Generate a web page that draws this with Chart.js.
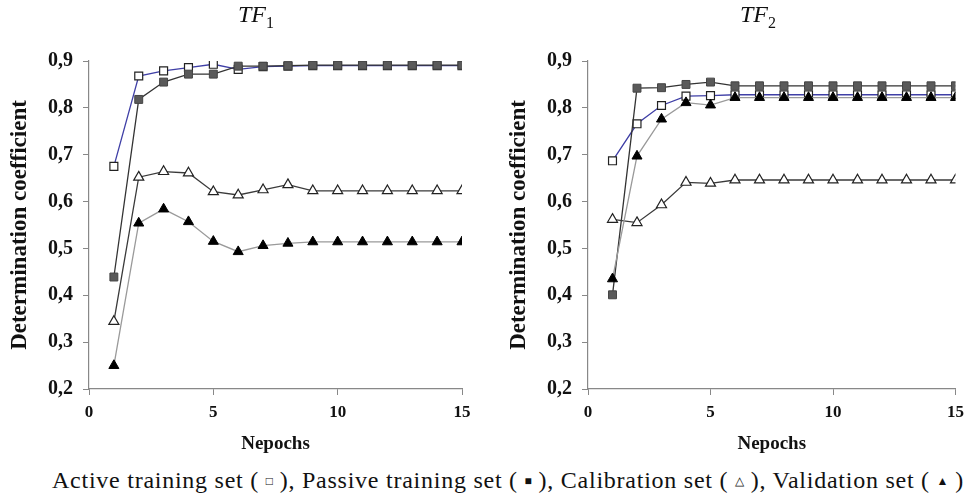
<!DOCTYPE html>
<html>
<head>
<meta charset="utf-8">
<script src="https://cdn.jsdelivr.net/npm/chart.js@4.4.1/dist/chart.umd.min.js"></script>
<style>
  html, body { margin: 0; padding: 0; background: #fff; }
  #wrap { position: relative; width: 971px; height: 503px; overflow: hidden; background: #fff; }
  canvas { position: absolute; top: 0; }
  .ttl { position: absolute; top: 1px; font-family: "Liberation Serif", serif; font-size: 24px; font-style: italic; color: #111; }
  .ttl sub { font-style: normal; font-size: 16px; vertical-align: -6px; }
  #legend { position: absolute; left: 52px; top: 467px; font-family: "Liberation Serif", serif; font-size: 24px; letter-spacing: 0.75px; color: #111; white-space: nowrap; }
  #legend .s { font-size: 12px; vertical-align: 3px; letter-spacing: 0; }
</style>
</head>
<body>
<div id="wrap">
  <canvas id="c1" width="485" height="460" style="left:0px"></canvas>
  <canvas id="c2" width="486" height="460" style="left:485px"></canvas>
  <div class="ttl" style="left:238px">TF<sub>1</sub></div>
  <div class="ttl" style="left:740px">TF<sub>2</sub></div>
  <div id="legend">Active training set ( <span class="s">&#9633;</span> ), Passive training set ( <span class="s">&#9632;</span> ), Calibration set ( <span class="s">&#9651;</span> ), Validation set ( <span class="s">&#9650;</span> )</div>
</div>
<script>
const epochs = [1,2,3,4,5,6,7,8,9,10,11,12,13,14,15];
const seriesNames = ['Active training set', 'Passive training set', 'Calibration set', 'Validation set'];

// TF1
const active1  = [0.675,0.868,0.879,0.886,0.893,0.882,0.888,0.889,0.890,0.890,0.890,0.890,0.890,0.890,0.890];
const passive1 = [0.439,0.818,0.855,0.872,0.872,0.889,0.889,0.890,0.891,0.891,0.891,0.891,0.891,0.891,0.891];
const calib1   = [0.344,0.652,0.664,0.661,0.621,0.614,0.625,0.636,0.623,0.623,0.623,0.623,0.623,0.623,0.623];
const valid1   = [0.250,0.554,0.584,0.557,0.515,0.493,0.506,0.511,0.514,0.514,0.514,0.514,0.514,0.514,0.514];

// TF2
const active2  = [0.687,0.766,0.805,0.825,0.826,0.828,0.828,0.828,0.828,0.828,0.828,0.828,0.828,0.828,0.828];
const passive2 = [0.401,0.842,0.843,0.850,0.855,0.847,0.847,0.847,0.847,0.847,0.847,0.847,0.847,0.847,0.847];
const calib2   = [0.562,0.555,0.593,0.641,0.639,0.646,0.646,0.646,0.646,0.646,0.646,0.646,0.646,0.646,0.646];
const valid2   = [0.435,0.697,0.776,0.811,0.806,0.822,0.822,0.822,0.822,0.822,0.822,0.822,0.822,0.822,0.822];

const yTicks = [0.2,0.3,0.4,0.5,0.6,0.7,0.8,0.9];
const yTickLabels = ['0,2','0,3','0,4','0,5','0,6','0,7','0,8','0,9'];
const xTicks = [0,5,10,15];
const xTickLabels = ['0','5','10','15'];
const xTitle = 'Nepochs';
const yTitle = 'Determination coefficient';

const serif = '"Liberation Serif", "Times New Roman", serif';

function pts(vals) { return epochs.map((e, i) => ({x: e, y: vals[i]})); }

function makeDatasets(a, p, c, v) {
  return [
    { label: seriesNames[0], data: pts(a), borderColor: '#3f3fa6', borderWidth: 1.3,
      pointStyle: 'rect', pointRadius: 5.6, pointBackgroundColor: '#ffffff', pointBorderColor: '#222', pointBorderWidth: 1.2, order: 4 },
    { label: seriesNames[1], data: pts(p), borderColor: '#333333', borderWidth: 1.3,
      pointStyle: 'rect', pointRadius: 5.6, pointBackgroundColor: '#5a5a5a', pointBorderColor: '#444', pointBorderWidth: 1, order: 3 },
    { label: seriesNames[2], data: pts(c), borderColor: '#3a3a3a', borderWidth: 1.3,
      pointStyle: 'triangle', pointRadius: 5.8, pointBackgroundColor: '#ffffff', pointBorderColor: '#222', pointBorderWidth: 1.2, order: 2 },
    { label: seriesNames[3], data: pts(v), borderColor: '#9a9a9a', borderWidth: 1.3,
      pointStyle: 'triangle', pointRadius: 5.8, pointBackgroundColor: '#000000', pointBorderColor: '#000', pointBorderWidth: 1, order: 1 }
  ];
}

function makeChart(id, datasets, padLeft, padRight) {
  return new Chart(document.getElementById(id), {
    type: 'line',
    data: { datasets },
    options: {
      responsive: false,
      animation: false,
      devicePixelRatio: 1,
      layout: { padding: { left: padLeft, right: padRight, top: 61, bottom: 0 } },
      plugins: { legend: { display: false }, tooltip: { enabled: false }, title: { display: false } },
      elements: { line: { tension: 0 } },
      scales: {
        x: {
          type: 'linear', min: 0, max: 15,
          afterFit: (s) => { s.height = 71; },
          afterBuildTicks: (s) => { s.ticks = xTicks.map(v => ({value: v})); },
          ticks: { callback: (v) => xTickLabels[xTicks.indexOf(v)], font: { family: serif, size: 17, weight: 'bold' }, color: '#111', padding: 7, maxRotation: 0 },
          grid: { display: true, drawOnChartArea: false, drawTicks: true, tickLength: 6, color: '#888' },
          border: { display: true, color: '#888', width: 1.2 },
          title: { display: true, text: xTitle, font: { family: serif, size: 19, weight: 'bold' }, color: '#111', padding: { top: 0, bottom: 5 } }
        },
        y: {
          type: 'linear', min: 0.2, max: 0.9,
          afterFit: (s) => { s.width = 89; },
          afterBuildTicks: (s) => { s.ticks = yTicks.map(v => ({value: v})); },
          ticks: { callback: (v) => { const i = yTicks.findIndex(t => Math.abs(t - v) < 1e-9); return yTickLabels[i]; },
                   font: { family: serif, size: 20, weight: 'bold' }, color: '#111', padding: 10 },
          grid: { display: true, drawOnChartArea: false, drawTicks: true, tickLength: 6, color: '#888' },
          border: { display: true, color: '#888', width: 1.2 },
          title: { display: true, text: yTitle, font: { family: serif, size: 23, weight: 'bold' }, color: '#111', padding: { top: 6, bottom: 0 } }
        }
      }
    }
  });
}

makeChart('c1', makeDatasets(active1, passive1, calib1, valid1), 0, 23);
makeChart('c2', makeDatasets(active2, passive2, calib2, valid2), 14, 13);
</script>
</body>
</html>
